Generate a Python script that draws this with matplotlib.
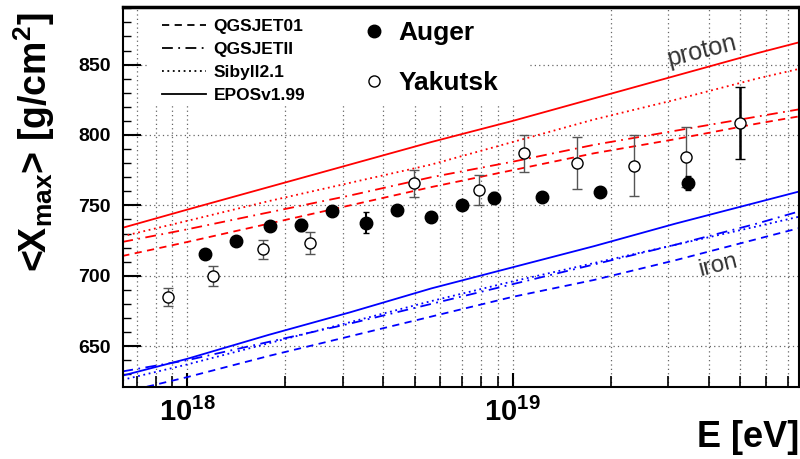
import numpy as np
import matplotlib
matplotlib.use('Agg')
import matplotlib.pyplot as plt
from matplotlib.lines import Line2D
from matplotlib.patches import Rectangle
from matplotlib.ticker import MultipleLocator, LogLocator, NullFormatter

plt.rcParams['font.family'] = ['Liberation Sans', 'DejaVu Sans']
plt.rcParams['font.weight'] = 'bold'
plt.rcParams['mathtext.fontset'] = 'custom'
plt.rcParams['mathtext.rm'] = 'Liberation Sans:bold'
plt.rcParams['mathtext.it'] = 'Liberation Sans:bold'
plt.rcParams['mathtext.bf'] = 'Liberation Sans:bold'

# model predictions, log10(E/eV) vs <Xmax>
model_lgE = [17.8, 18.0, 18.25, 18.5, 18.75, 19.0, 19.25, 19.5, 19.75, 19.9]
proton_epos = [734, 747, 763, 779, 795, 810, 826, 842, 858, 867]
proton_sibyll = [728, 739, 753, 766, 779, 795, 811, 825, 840, 848]
proton_qgsii = [724, 733, 745, 757, 770, 781, 793, 803, 813, 819]
proton_qgs01 = [714, 724, 737, 750, 763, 775, 787, 797, 808, 814]
iron_epos = [629, 641, 658, 674, 691, 706, 721, 737, 752, 761]
iron_sibyll = [626, 637, 652, 667, 682, 696, 709, 722, 735, 743]
iron_qgsii = [632, 640, 653, 666, 680, 694, 708, 722, 737, 747]
iron_qgs01 = [617, 628, 643, 657, 671, 685, 697, 711, 726, 735]

# measurements
auger_lgE = [18.055, 18.151, 18.255, 18.348, 18.445, 18.548, 18.645, 18.748, 18.845,
             18.942, 19.091, 19.269, 19.538]
auger_xmax = [715.4, 724.9, 735.3, 736.1, 746.0, 737.7, 746.7, 742.0, 750.3,
              755.5, 756.2, 759.7, 765.7]
auger_err = [2.5, 2.5, 2.5, 4.0, 2.5, 7.5, 2.5, 3.0, 3.0, 4.0, 3.0, 3.5, 5.0]

yakutsk_lgE = [17.939, 18.079, 18.233, 18.378, 18.697, 18.896, 19.035, 19.197, 19.373,
               19.532, 19.699]
yakutsk_xmax = [685.1, 699.8, 718.8, 723.5, 765.7, 761.0, 787.0, 780.0, 778.2, 784.6, 808.4]
yakutsk_err = [6.5, 6.9, 6.9, 7.9, 9.5, 10.7, 13.0, 18.5, 21.7, 21.3, 25.5]

model_names = ['QGSJET01', 'QGSJETII', 'Sibyll2.1', 'EPOSv1.99']
model_styles = [(0, (4, 3)), (0, (6, 3, 1, 3)), (0, (1, 2)), '-']
proton_models = [proton_qgs01, proton_qgsii, proton_sibyll, proton_epos]
iron_models = [iron_qgs01, iron_qgsii, iron_sibyll, iron_epos]

fig = plt.figure(figsize=(8, 4.59), dpi=100)
ax = fig.add_axes([0.154, 0.157, 0.845, 0.828])

E_model = 10 ** np.array(model_lgE)
for vals, ls in zip(proton_models, model_styles):
    ax.plot(E_model, vals, color='#ff0000', ls=ls, lw=1.3, zorder=2)
for vals, ls in zip(iron_models, model_styles):
    ax.plot(E_model, vals, color='#0000ff', ls=ls, lw=1.3, zorder=2)

ax.errorbar(10 ** np.array(yakutsk_lgE[:-1]), yakutsk_xmax[:-1], yerr=yakutsk_err[:-1],
            fmt='o', ms=8, mfc='white', mec='black', mew=1.0, ecolor='#555555',
            elinewidth=1.0, capsize=3.5, capthick=1.0, zorder=4)
ax.errorbar(10 ** yakutsk_lgE[-1], yakutsk_xmax[-1], yerr=yakutsk_err[-1],
            fmt='o', ms=8, mfc='white', mec='black', mew=1.0, ecolor='black',
            elinewidth=1.8, capsize=3.5, capthick=1.5, zorder=4)
ax.errorbar(10 ** np.array(auger_lgE), auger_xmax, yerr=auger_err,
            fmt='o', ms=9, mfc='black', mec='black', ecolor='black',
            elinewidth=1.5, capsize=2.5, zorder=5)

ax.set_xscale('log')
ax.set_xlim(6.35e17, 7.6e19)
ax.set_ylim(621, 891)

ax.set_xticks([1e18, 1e19])
ax.set_xticklabels([r'$10^{18}$', r'$10^{19}$'])
ax.xaxis.set_minor_locator(LogLocator(base=10, subs=np.arange(2, 10)))
ax.xaxis.set_minor_formatter(NullFormatter())
ax.yaxis.set_major_locator(MultipleLocator(50))
ax.yaxis.set_minor_locator(MultipleLocator(10))

ax.tick_params(axis='x', which='major', direction='in', length=10, width=1.5,
               labelsize=21, pad=8)
ax.tick_params(axis='x', which='minor', direction='in', length=8, width=1.2)
ax.tick_params(axis='y', which='major', direction='in', length=13, width=1.5,
               labelsize=14, pad=9)
ax.tick_params(axis='y', which='minor', direction='in', length=6, width=1.0)

ax.set_axisbelow(True)
ax.grid(True, axis='x', which='both', color='black', ls=(0, (1, 2.5)), lw=0.9, alpha=0.6)
ax.grid(True, axis='y', which='major', color='black', ls=(0, (1, 2.5)), lw=0.9, alpha=0.6)

for side in ['left', 'bottom', 'right']:
    ax.spines[side].set_linewidth(1.5)
ax.spines['top'].set_linewidth(2.5)

# white box behind the legends hides the grid
ax.add_patch(Rectangle((0.037, 0.742), 0.562, 0.255, transform=ax.transAxes,
                       facecolor='white', edgecolor='none', zorder=1))

handles = [Line2D([], [], color='black', ls=ls, lw=1.3) for ls in model_styles]
leg1 = ax.legend(handles, model_names, loc='upper left', bbox_to_anchor=(0.058, 0.968),
                 frameon=False, fontsize=12.5, handlelength=2.5, handletextpad=0.45,
                 labelspacing=0.45, borderpad=0, borderaxespad=0)
ax.add_artist(leg1)
data_handles = [Line2D([], [], ls='none', marker='o', ms=9, mfc='black', mec='black'),
                Line2D([], [], ls='none', marker='o', ms=8, mfc='white', mec='black', mew=1.0)]
ax.legend(data_handles, ['Auger', 'Yakutsk'], loc='upper left', bbox_to_anchor=(0.355, 0.962),
          frameon=False, fontsize=19, handlelength=0.8, handletextpad=0.55,
          labelspacing=0.98, borderpad=0, borderaxespad=0)

ax.text(3.82e19, 860, 'proton', rotation=14, fontsize=18, fontweight='normal',
        color='#333333', ha='center', va='center')
ax.text(4.28e19, 707, 'iron', rotation=14, fontsize=17, fontweight='normal',
        color='#333333', ha='center', va='center')

ax.set_ylabel(r'<X$_{max}$> [g/cm$^{2}$]', fontsize=27, fontweight='bold')
ax.yaxis.set_label_coords(-0.098, 0.645)
ax.set_xlabel('E [eV]', fontsize=26, fontweight='bold', loc='right')
ax.xaxis.set_label_coords(1.0, -0.088)

fig.savefig('out.png', dpi=100)
